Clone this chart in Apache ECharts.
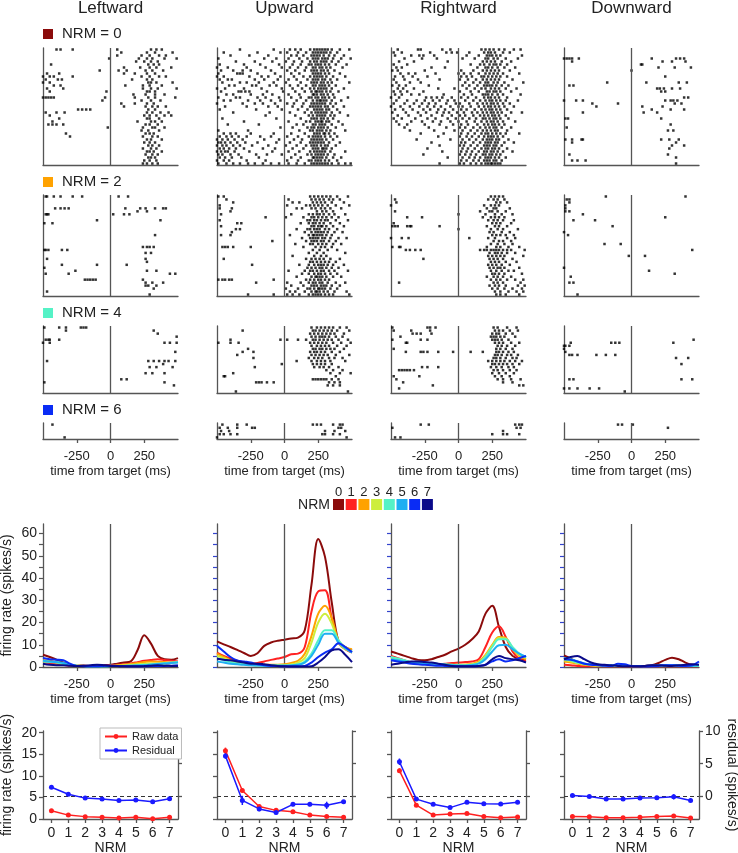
<!DOCTYPE html>
<html><head><meta charset="utf-8">
<script src="https://cdn.jsdelivr.net/npm/echarts@6/dist/echarts.min.js"></script>
<style>html,body{margin:0;padding:0;background:#fff}#c{width:738px;height:853px}</style>
</head><body><div id="c"></div><script>
// ---------------- DATA ----------------
const directions = ['Leftward', 'Upward', 'Rightward', 'Downward'];
const rasterLevels = [0, 2, 4, 6];
const trialCounts = [39, 34, 22, 5];
const nrmLevels = [0, 1, 2, 3, 4, 5, 6, 7];
const timeTicks = [-250, 0, 250];
const psthTicks = [0, 5, 10, 15, 20, 25, 30, 35, 40, 45, 50, 55, 60];
const psthLabels = [0, 10, 20, 30, 40, 50, 60];
const rateTicks = [0, 5, 10, 15, 20];
const residualTicks = [0, 5, 10];

// raster spike times (units of 10 ms), one string per trial, top trial first
const rasterLeft0 = [
"-40 -37 -28 5 30 34 38","8 27 33 46","5 23 29 36 41","-1 21 27 31 40 49","19 25 30 35","-44 28 32 36",
"10 22 29 34 45","-8 6 12 26 31 39","-47 -38 10 18 27 33","-50 -45 -42 -28 23 29 36 41","-48 -39 -36 16 27 31",
"-50 -45 28 30 34 46","-42 -37 11 24 29 38","-47 -35 24 30 35 49","-45 -3 27 29 33","17 26 33 40",
"-50 -48 -46 -44 -42 -4 18 28 33 48","-6 23 30 37","8 18 27 32","10 26 31 35 41","-24 -21 -18 -15 28 33",
"-48 -40 -34 27 31 37 43","-45 25 29 34 40 45","-38 27 29 36","-43 20 30 33 38","-46 -43 -40 -35 26 29 35",
"-2 24 31 33 40","23 28 36","-33 26 29 32","-30 24 31 35","27 30 38","25 29 33","28 31 36","24 30 34",
"27 29 32 38","26 31 35","28 30 33","25 29 34","24 27 31 35"];
const rasterUp0 = [
"-33 -8 4 8 12 19 22 24 26 28 30 32 35 41 48","-45 -20 -3 2 10 16 21 23 25 27 29 31 34 39",
"-40 -26 -12 5 9 14 20 22 24 26 29 33 37 44","-49 -15 -6 3 11 17 21 23 25 28 30 32 36 42 49",
"-36 -22 -9 1 7 13 19 22 24 27 29 31 35 40","-48 -30 -18 -4 6 12 18 20 23 25 27 30 33 38 46",
"-50 -42 -28 -14 -2 4 10 16 21 23 26 28 31 34 43","-47 -38 -31 -25 -10 2 8 15 20 22 24 27 29 32 37",
"-49 -35 -33 -31 -20 -7 5 11 21 23 25 27 30 33 41","-50 -45 -26 -17 -12 -3 7 14 19 22 24 26 28 31 36 45",
"-48 -42 -39 -22 -15 -5 3 9 17 21 23 25 28 30 34 39","-46 -33 -28 -19 -8 1 12 20 22 24 27 29 32 35 48",
"-41 -37 -24 -21 -11 -6 4 10 16 21 23 26 28 30 33 38","-50 -44 -30 -17 -2 6 13 19 22 25 27 29 31 35 44",
"-47 -34 -32 -29 -26 -13 -1 8 15 20 23 24 26 28 31 34 40","-43 -38 -25 -16 -9 3 11 21 22 24 27 29 32 36",
"-49 -36 -33 -20 -14 -4 5 12 18 20 23 25 28 30 33 37 47","-45 -40 -27 -18 -10 -3 9 16 21 24 26 27 29 31 35 42",
"-50 -31 -22 -16 -7 2 7 14 20 22 24 26 28 30 34 38","-44 -28 -12 -5 6 13 19 21 23 25 27 30 32 36 44",
"-48 -21 -2 10 17 22 24 26 28 31 33 39","-38 -11 4 15 20 23 25 27 29 31 35 41","-14 8 18 21 24 26 28 30 34 37 47",
"-46 -6 12 20 22 24 27 29 32 36","-30 3 16 19 23 25 27 28 31 33 40","-42 -19 9 14 21 23 26 28 30 35 43",
"-3 6 17 20 22 25 27 29 32 38","-49 -27 11 19 21 24 26 28 31 34 45","-45 -40 -36 -25 -8 5 15 22 24 26 29 30 33 37",
"-48 -43 -39 -34 -28 -18 -10 2 10 18 21 23 25 27 30 34 39","-50 -46 -42 -37 -31 -15 -4 7 13 20 22 24 26 28 31 36",
"-49 -47 -44 -40 -35 -29 -20 -6 4 12 19 21 23 25 27 29 33 41","-50 -46 -43 -38 -33 -24 -12 1 9 16 20 22 24 27 30 32 38",
"-48 -45 -41 -36 -30 -16 -7 6 14 21 23 25 28 29 31 35","-50 -47 -44 -42 -37 -26 -9 3 11 19 22 24 26 28 30 34 45",
"-49 -46 -40 -34 -21 -13 -2 8 17 20 23 25 27 29 32 37","-48 -44 -39 -32 -19 5 12 21 22 24 26 28 31 36 42",
"-50 -45 -41 -28 -14 2 10 18 20 23 25 27 30 33 39",
"-49 -43 -38 -33 -27 -22 -16 -10 -4 3 9 15 20 22 24 26 28 30 32 35 40 45 49"];
const rasterRight0 = [
"-45 -30 -28 -12 -6 17 20 23 26 30 34 41 46","-48 -42 -21 -9 -5 -1 8 19 22 24 27 33 38","-47 -35 -29 -26 -18 6 15 21 23 25 28 31 47",
"-40 -27 -16 3 12 20 22 26 29 35 44","-44 -33 -8 18 21 24 27 32 39","-48 -38 9 16 19 23 26 28 31 36",
"-46 -42 -20 -10 14 20 22 25 29 34 42","-49 -45 -25 2 11 18 21 24 27 30 38","-43 -37 -32 -17 0 4 9 15 20 23 26 29 33 45",
"-47 -41 -34 -23 2 6 10 17 19 22 25 28 31 36","-48 -40 -30 -14 1 7 13 18 21 24 27 30 40","-46 -36 -28 5 11 16 20 22 26 29 34 48",
"-49 -44 -39 -22 3 8 14 19 21 23 25 28 32 37","-45 -41 -33 -15 -3 6 12 17 20 24 27 30 35 43","-48 -43 -38 -26 1 9 15 21 23 26 28 31 39",
"-47 -42 -35 -29 -11 4 10 18 20 22 25 29 33 46","-50 -44 -24 -20 -16 -12 -5 2 7 13 19 22 24 27 30 36",
"-46 -38 -31 -25 -19 -14 -8 -3 5 11 16 20 23 25 28 31 35 44","-48 -40 -33 -27 -22 -17 -9 -2 1 8 14 18 21 24 26 29 33 38",
"-50 -43 -36 -29 -23 -18 -13 -6 0 3 9 15 19 22 24 27 30 34 41","-47 -41 -34 -26 -21 -15 -10 -4 2 6 12 17 20 23 25 28 31 36",
"-49 -39 -30 -24 -16 -11 -7 -1 4 10 14 18 21 24 26 29 32 39 47","-45 -37 -28 -20 -12 -5 1 5 11 16 19 22 25 27 30 35",
"-48 -42 -32 -23 -17 -8 -2 3 8 13 18 20 23 26 28 31 37","-46 -35 -27 -19 -13 -6 0 6 12 17 21 24 26 29 33 42",
"-44 -38 -25 -14 -4 2 7 14 19 22 25 27 30 34","-40 -22 -9 1 5 11 16 20 23 26 28 32 39","-36 -18 -3 3 9 14 18 21 24 27 29 36",
"-28 -11 2 7 12 17 20 22 25 28 31 35 45","-15 1 6 10 15 19 22 24 26 29 33","-31 -6 3 8 13 18 21 23 25 28 30 37",
"-20 2 5 11 16 20 22 24 27 29 34 41","-14 1 4 9 14 19 21 23 26 28 32","-23 3 7 12 17 20 22 25 27 30 36",
"-12 2 6 10 15 19 21 24 26 29 33 40","-26 1 5 9 13 18 20 23 25 28 31","-8 3 8 12 16 20 22 24 27 30 35",
"2 6 11 15 19 21 23 26 28 32","-14 1 4 9 13 17 20 22 24 25 27 29 31"];
const rasterDown0 = [
"","","","-50 -48 -46 -44 -39 15 33 36 39","-44 23 30 40","7 8","20 32 44","0","","25","","-18 11 35 41","-46 -43",
"19 21 24 30 36","22 25","","39 42","-50 -41 -36 25 29 31 34","-29 -10 32 37","-26 8 23","15 29 39","-36 9 19","",
"-49 -47 22","","29","-48","27 31","","","-49 -44 -37 -36 22 28 35","-44 33","30 39","28","","-46 27","33","-44 -40 -34","33"];

const rasterLeft2 = [
"-48 -47 -42 -37 -28 -21 6 13","","","","-41 -37 -34 -31 11 22 26 33 39 41","20 27","-48 -47 -46 2 10 14","","-10 37",
"-49 -43","","","","33","","","","24 27 29 32","-49 -48 -46 -36 -32","26 30","","-47 26","27","-36 -10 12","-49",
"-26 27 34","-48 -31 44 48","","-19 -17 -15 -13 -11 24","26 31 39","26 28 34","32","-47","29"];
const rasterUp2 = [
"-49 -45 19 22 25 28 31 34 39 47","-43 3 20 23 26 29 33 36 41","-38 6 11 21 24 27 30 35 44","-48 2 16 19 22 25 28 32 38 48",
"-48 -39 9 13 20 23 27 30 34 42","-40 24 28 31 36","-47 5 18 21 24 26 29 33 37 45","-14 1 14 20 22 25 28 31 35 40",
"-48 17 19 22 24 27 30 32 38 47","-35 -32 12 18 21 23 26 29 34 41","-47 20 22 25 27 28 31 36 44",
"-36 -33 9 17 19 22 24 26 30 33 39","-39 15 20 23 25 27 29 32 37 43","-47 -40 4 18 21 22 24 26 28 31 35",
"13 19 21 23 25 28 30 34 40 46","-9 16 20 22 24 27 29 33 38","8 19 21 25 28 31 36 42","-46 -44 -42 -38 -25 14 23 27 30 35",
"21 26 32 39","18 24 29 45","6 22 27 31","-45 16 20 23 26 29 34 41","19 21 24 27 30 33 38",
"-24 11 18 22 25 27 29 32 36 44","17 20 23 26 28 31 35 40","3 15 19 21 24 27 29 33 37 47","13 18 22 25 27 30 34 39",
"9 20 23 24 26 28 31 36 42","-49 -46 -44 -41 -39 -8 16 19 22 25 27 30 33","-21 2 12 18 21 23 26 28 32 38 45",
"5 14 20 22 24 27 29 31 35 41","1 10 17 19 22 25 26 28 30 34 39","4 8 15 20 23 24 26 29 32 37 46",
"-27 -8 2 6 11 18 21 23 25 27 30 33 36 48"];
const rasterRight2 = [
"24 27 30 33","-47 22 26 29 34","-46 28 31 36","-50 19 24 27 30","21 26 28 38","-47 16 23 25 29 35","0 20 27 32 40",
"-38 -27 18 24 27 30 34","22 26 29 33 41","-48 25 28 31 39","-49 -47 -45 -38 -36 -35 -14 21 27 30 36","0 24 29 33 44",
"23 26 32 38","25 28 31 35 41","-50 -42 -37 8 22 27 36 42","26 30 33 39","24 29 34 40","-49 -44 -43 21 28 31 37 45",
"-39 -36 -32 -28 16 19 21 24 26 28 30 33 36 39 49","23 27 29 32 36 42","22 25 28 31 34 48","-26 23 26 29 33 40",
"24 27 30 35 43","22 25 28 32 38","23 26 29 31 34 45","24 28 32 37 41","25 27 30 34 47","21 26 29 33 39",
"24 28 31 36 42 48","-44 26 29 33 46","23 27 30 35 44 49","25 29 34 40 47","27 31 37 43 48","28 31 35 45"];
const rasterDown2 = [
"-19 40","-48 -46","-46","-49","-49","-49 -46","-36","25","-43 -27","","-14","","-50","-47","","","-20 -8","","45","",
"-2 10","","","","-50","13","32","-45","","-46 -43","","","","-40"];

const rasterLeft4 = [
"-49 -38 -33 -22 -20 -18","-33 32","35","49","-48 -46 -45 -38","-50 -45 40 44 49","","","48","","",
"-47 28 32 36 40 43 48","39","29 34 46","","26 31 40","","8 12","-49 40","47","",""];
const rasterUp4 = [
"20 24 27 30 33 36 41 46","-31 21 23 26 29 32 35 39 48","19 22 25 28 31 34 37 44","20 23 26 28 30 33 38 43",
"-40 -3 2 10 16 21 23 26 29 32 35 40 47","-49 -40 -34 19 22 25 28 31 36 42 49","20 24 27 30 33 39 46",
"-27 21 23 26 28 31 34 37 44","-31 -23 19 22 24 27 30 35 41","-35 20 23 26 29 32 38 48","-23 18 22 25 28 33 37 43",
"9 20 24 27 30 34 45","-2 21 24 27 30 35","-22 22 26 29 33 40","31 36 43","-38 34 41 49","-45 -44 38",
"21 23 25 27 29 31 35 40","-21 -19 -17 -13 -8 33 37 41","32 36 41","","-36 47"];
const rasterRight4 = [
"-49 -23 -21 -17 26 29 36 43","-48 -35 -21 27 30 33 38 44","-34 -31 -28 -20 25 28 30 35 40","-43 24 26 28 31 34 42",
"-49 -28 -23 25 27 29 32 37","-39 -38 27 30 33 39 45","29 32 36 42","-48 28 31 35 40",
"-39 -28 -26 -23 -15 -4 9 18 28 30 33 37 41","27 29 32 36 39 44","26 28 31 35 40 43","22 25 28 31 34 38 42 47",
"25 27 30 33 36 40 45","-27 -23 -15 24 28 32 37 41","-44 -42 -40 -38 -36 -33 26 29 33 38 43","25 30 35 41",
"-48 -29 27 32 38","-46 29 33 39 46","-41 33 40","-19 45 48","-44",""];
const rasterDown4 = [
"","","","","46","-45 -15 -12 -9 31","-50 -49 -46","-50","-49","-46 -44 -40 -26 -19 -12","33 42","","37","","","","",
"-46 -43 37 45","","","-50 -46 -40 -31 -24","-5"];

const rasterLeft6 = ["-43", "", "", "", "-34"];
const rasterUp6 = ["-46 -35 -28 21 24 27 36 41 43", "-48 -42 -35 -24 -22 40 42", "-47 -41 30 37 45", "-48 -45 -40 -35 28 30 36 41", "-50 46"];
const rasterRight6 = ["-28 -22 42 45 47", "-49 43 46", "33", "25 33 36 45", "-47 -43"];
const rasterDown6 = ["-10 -7 1", "27", "", "", ""];

// PSTH: firing rate (spikes/s) at these times (ms), one row per NRM level 0..7
const psthTimes = [-500,-450,-400,-350,-300,-250,-200,-150,-100,-50,0,50,100,150,200,250,300,350,400,450,500];
const psthLeft = [
[5.5,4.5,3.3,2.0,1.0,0.6,0.7,0.5,0.6,0.8,1.0,1.5,2.0,2.5,7.5,14.3,10.5,5.0,3.5,3.3,4.0],
[2,1.8,1.5,1,0.6,0.5,0.5,0.5,0.5,0.5,0.8,1.0,1.2,1.6,2.2,2.8,3.2,3.5,3.2,2.8,2.5],
[3,2.8,2,1.2,0.8,0.5,0.5,0.5,0.5,0.5,0.6,0.8,1.0,1.3,1.8,2.2,2.5,2.4,2.2,2.0,2.2],
[2.5,2.5,2.2,1.5,1.0,0.6,0.5,0.4,0.4,0.5,0.5,0.6,0.8,1.0,1.2,1.5,1.6,1.5,1.5,1.8,2.2],
[2.5,2.3,2,1.5,1.0,0.6,0.4,0.3,0.3,0.3,0.4,0.5,0.5,0.6,0.8,1.0,1.2,1.5,1.8,2.0,2.2],
[2.8,2.5,2.2,1.8,1.0,0.5,0.4,0.3,0.3,0.3,0.4,0.4,0.5,0.6,0.7,0.8,1.0,1.3,1.6,1.8,2.0],
[4,3.5,3.3,3.0,1.5,0.5,0.3,0.3,0.3,0.5,0.6,0.5,0.4,0.3,0.3,0.3,0.4,0.4,0.5,0.6,0.8],
[1.5,1.0,0.8,0.8,0.6,0.5,0.6,0.8,1.0,0.8,0.5,0.4,0.3,0.3,0.3,0.4,0.6,0.8,0.6,0.5,0.4]];
const psthUp = [
[11.5,10.2,9.0,7.7,6.3,5.0,6.2,9.5,11.0,11.8,12.3,12.8,13.2,16.5,37,57.5,49.5,29,11.5,9,7.5],
[6.5,5,3.8,2.8,2,1.5,1.8,2.5,3.2,3.8,4.5,5.7,6,9,25,34,34.5,22,11,8,6.5],
[6,4.5,3,2,1.5,1.2,1,1,1,1,1.2,1.8,2.8,6,14,24,27.5,22,12,9,8],
[5,4,3,2,1.3,1,0.8,0.8,0.8,0.8,0.8,1.2,2,4,11,20,24,19.5,11,8,7],
[4,3,2.2,1.6,1.2,1,0.8,0.7,0.7,0.7,0.7,0.8,1.2,2.5,6,12,16.5,16.5,12,8.5,7],
[2.5,2,1.5,1.2,1,0.8,0.7,0.6,0.6,0.6,0.6,0.7,1,2,5,10,15,15,11,8.5,6.5],
[9.5,7,4.5,3,2.5,2,1.2,0.8,0.5,0.4,0.3,0.3,0.3,0.5,2,4.5,6.5,8,10.7,9,6.7],
[3.7,3.3,3,2.5,2,1.5,1.5,1.2,0.8,0.5,0.3,0.2,0.2,0.2,0.3,2,4.5,7.5,8,5.5,2.2]];
const psthRight = [
[7,6,5,4,3.2,3,3.5,4.5,5.5,7,8.3,10,12.5,16,24,27.5,18,9,5,3.5,3],
[5,4,3,2,1.5,1.3,1.2,1.2,1.5,1.8,2,2.2,2.5,3.5,9,15.5,18.3,13.5,7,3.7,2.7],
[4.5,3.5,2.5,1.8,1.5,1.3,1.1,1,1,1,1,1.1,1.5,2.5,5.5,10,13.5,13,8,5,3.5],
[4,3.3,2.5,2,1.6,1.4,1.2,1,0.9,0.8,0.8,0.9,1.2,2,5,9.5,13,12.8,8.5,5.5,4],
[4.5,3.8,3,2.2,1.8,1.6,1.5,1.4,1.2,1,0.8,0.8,1,1.8,4.5,9,12.5,12.5,9,6,4.5],
[3.5,3,2.5,2.2,2,1.8,1.6,1.4,1,0.8,0.6,0.6,0.8,1.5,3.5,7,9.8,10,8,6,4.5],
[3,2.5,2,1.5,1.2,1,0.8,0.6,0.5,0.4,0.3,0.3,0.3,0.5,1,2.5,3.5,2.5,3,4,5],
[1,1.5,2,2.5,2.5,2.2,2,1.5,1,0.5,0.3,0.3,0.3,0.5,1,3.5,5,4,3.5,3,2]];
const psthDown = [
[5.2,3.8,2.2,1.2,0.8,0.6,0.5,0.5,0.5,0.5,0.5,0.4,0.5,0.8,1.8,3.2,4.2,3.5,2.0,1.0,0.8],
[1,0.8,0.5,0.3,0.3,0.3,0.3,0.3,0.3,0.3,0.3,0.3,0.3,0.3,0.3,0.3,0.3,0.3,0.3,0.3,0.3],
[2.5,2,1.5,1,0.8,0.6,0.5,0.5,0.5,0.5,0.4,0.4,0.4,0.4,0.4,0.4,0.4,0.4,0.4,0.4,0.4],
[3,2.5,1.8,1.2,0.8,0.6,0.5,0.5,0.4,0.4,0.4,0.4,0.4,0.4,0.5,0.5,0.5,0.5,0.5,0.5,0.5],
[3.5,3,2,1.5,1.2,1,0.8,0.7,0.6,0.5,0.5,0.5,0.5,0.5,0.6,0.7,0.7,0.6,0.5,0.5,0.6],
[4,3.5,2.5,1.6,1.2,1.0,0.8,0.8,0.8,0.6,0.5,0.5,0.5,0.6,0.7,0.8,0.8,0.7,0.6,0.6,0.8],
[3.5,3.2,2.5,1.5,1.0,0.8,0.6,0.5,1.5,1.2,0.5,0.3,0.2,0.3,0.5,0.8,0.8,0.6,0.5,0.8,2.5],
[3.5,4.5,5,3.5,2,1.2,1.0,0.8,0.5,0.3,0.3,0.3,0.5,0.8,0.8,0.6,0.5,0.8,1.0,1.2,1.0]];

// tuning: raw firing rate (spikes/s, left axis) and residual (spikes/s, right axis) per NRM
const rawLeft  = [1.9, 0.9, 0.55, 0.4, 0.25, 0.4, 0.05, 0.4];
const resLeft  = [1.4, 0.35, -0.25, -0.4, -0.6, -0.55, -0.8, -0.35];
const rawUp    = [15.85, 6.6, 2.9, 2.0, 1.7, 0.9, 0.6, 0.4];
const resUp    = [6.2, -0.6, -1.9, -2.45, -1.2, -1.2, -1.35, -0.8];
const rawRight = [11.2, 3.2, 0.9, 1.15, 1.3, 0.6, 0.3, 0.45];
const resRight = [5.3, -0.4, -1.2, -1.7, -0.9, -1.1, -1.15, -0.9];
const rawDown  = [0.6, 0.55, 0.3, 0.3, 0.4, 0.6, 0.7, 0.25];
const resDown  = [0.15, 0, -0.4, -0.4, -0.25, -0.2, -0.05, -0.6];
const rawErrLeft  = [0.2, 0.15, 0.1, 0.1, 0.1, 0.1, 0.1, 0.1];
const resErrLeft  = [0.2, 0.25, 0.15, 0.15, 0.15, 0.15, 0.2, 0.15];
const rawErrUp    = [0.7, 0.45, 0.3, 0.3, 0.25, 0.2, 0.2, 0.2];
const resErrUp    = [0.45, 0.7, 0.35, 0.3, 0.3, 0.3, 0.55, 0.25];
const rawErrRight = [0.55, 0.35, 0.2, 0.2, 0.2, 0.15, 0.15, 0.15];
const resErrRight = [0.5, 0.25, 0.2, 0.2, 0.2, 0.2, 0.2, 0.2];
const rawErrDown  = [0.15, 0.15, 0.1, 0.1, 0.1, 0.15, 0.2, 0.1];
const resErrDown  = [0.2, 0.2, 0.2, 0.2, 0.2, 0.2, 0.4, 0.2];

// ---------------- STYLE / LAYOUT ----------------
const FONT = '"Liberation Sans", Arial, sans-serif';
const TXT = '#222';
const AX = '#555';
const nrmColors = ['#8b0b0b','#ff2222','#ffa200','#cdee3c','#55f2c6','#1eaff2','#0a2cf5','#0a0a8a'];
const colLeft = [43, 217, 391, 564];
const colW = 135;
const rowTop = [48, 195, 326, 423, 524, 731];
const rowH = [117, 101, 67, 16, 143, 88];

const rasters = [
  [rasterLeft0, rasterUp0, rasterRight0, rasterDown0],
  [rasterLeft2, rasterUp2, rasterRight2, rasterDown2],
  [rasterLeft4, rasterUp4, rasterRight4, rasterDown4],
  [rasterLeft6, rasterUp6, rasterRight6, rasterDown6]];
const psths = [psthLeft, psthUp, psthRight, psthDown];
const raws = [rawLeft, rawUp, rawRight, rawDown];
const ress = [resLeft, resUp, resRight, resDown];
const rawErrs = [rawErrLeft, rawErrUp, rawErrRight, rawErrDown];
const resErrs = [resErrLeft, resErrUp, resErrRight, resErrDown];

function rasterPoints(rows) {
  const pts = [];
  rows.forEach((s, i) => {
    if (!s.trim()) return;
    s.trim().split(/\s+/).forEach(v => pts.push([Number(v) * 10, i + 0.5]));
  });
  return pts;
}
function axLine(show) { return { show, onZero: false, lineStyle: { color: AX, width: 1.3 } }; }
function zeroLine(color, width, type, axis) {
  const d = {}; d[axis || 'xAxis'] = 0;
  return { silent: true, symbol: ['none', 'none'], label: { show: false }, animation: false,
    lineStyle: { color: color, width: width, type: type }, emphasis: { disabled: true }, data: [d] };
}
const nameStyle = (fs) => ({ fontSize: fs, color: TXT, fontFamily: FONT });

const grids = [], xAxes = [], yAxes = [], series = [];
function addGrid(left, top, width, height) {
  grids.push({ left, top, width, height, containLabel: false, outerBoundsMode: 'none' });
  return grids.length - 1;
}

// rasters
for (let r = 0; r < 4; r++) {
  for (let c = 0; c < 4; c++) {
    const gi = addGrid(colLeft[c], rowTop[r], colW, rowH[r]);
    const last = r === 3;
    const xi = xAxes.push({ gridIndex: gi, type: 'value', min: -500, max: 500,
      axisLine: axLine(true),
      axisTick: { show: last, customValues: timeTicks, length: 4, lineStyle: { color: AX, width: 1.3 } },
      axisLabel: { show: last, customValues: timeTicks, fontSize: 13, color: TXT, margin: 11, fontFamily: FONT, hideOverlap: false },
      splitLine: { show: false },
      name: last ? 'time from target (ms)' : '', nameLocation: 'middle', nameGap: 26, nameTextStyle: nameStyle(13) }) - 1;
    const yi = yAxes.push({ gridIndex: gi, type: 'value', inverse: true, min: 0, max: trialCounts[r],
      axisLine: axLine(true), axisTick: { show: false }, axisLabel: { show: false }, splitLine: { show: false } }) - 1;
    series.push({ type: 'scatter', xAxisIndex: xi, yAxisIndex: yi, data: rasterPoints(rasters[r][c]),
      symbol: 'rect', symbolSize: 2.5, itemStyle: { color: '#000' }, silent: true,
      markLine: zeroLine(AX, 1.3, 'solid') });
  }
}

// PSTH
for (let c = 0; c < 4; c++) {
  const gi = addGrid(colLeft[c], rowTop[4], colW, rowH[4]);
  const xi = xAxes.push({ gridIndex: gi, type: 'value', min: -500, max: 500,
    axisLine: axLine(true),
    axisTick: { show: true, customValues: timeTicks, length: 4, lineStyle: { color: AX, width: 1.3 } },
    axisLabel: { customValues: timeTicks, fontSize: 13, color: TXT, margin: 11, fontFamily: FONT, hideOverlap: false },
    splitLine: { show: false },
    name: 'time from target (ms)', nameLocation: 'middle', nameGap: 26, nameTextStyle: nameStyle(13) }) - 1;
  const yi = yAxes.push({ gridIndex: gi, type: 'value', min: 0, max: 64.3,
    axisLine: axLine(true),
    axisTick: { show: true, customValues: psthTicks, length: 4, lineStyle: { color: c === 0 ? AX : '#3344cc', width: 1.2 } },
    axisLabel: { show: c === 0, customValues: psthLabels, fontSize: 14, color: TXT, margin: 6, fontFamily: FONT, hideOverlap: false },
    splitLine: { show: false },
    name: c === 0 ? 'firing rate (spikes/s)' : '', nameLocation: 'middle', nameGap: 29, nameTextStyle: nameStyle(14) }) - 1;
  psths[c].forEach((vals, k) => {
    series.push({ type: 'line', xAxisIndex: xi, yAxisIndex: yi, smooth: 0.35, showSymbol: false, silent: true,
      data: psthTimes.map((t, i) => [t, vals[i]]),
      lineStyle: { color: nrmColors[k], width: 2 }, itemStyle: { color: nrmColors[k] },
      markLine: k === 0 ? zeroLine(AX, 1.3, 'solid') : undefined, z: 3 + k });
  });
}

// tuning
function errSeries(xi, yi, vals, errs, color) {
  return { type: 'custom', xAxisIndex: xi, yAxisIndex: yi, silent: true, z: 4,
    data: vals.map((v, i) => [nrmLevels[i], v - errs[i], v + errs[i]]),
    encode: { x: 0, y: [1, 2] },
    renderItem: (params, api) => {
      const p1 = api.coord([api.value(0), api.value(1)]);
      const p2 = api.coord([api.value(0), api.value(2)]);
      return { type: 'line', shape: { x1: p1[0], y1: p1[1], x2: p2[0], y2: p2[1] }, style: { stroke: color, lineWidth: 1.5 } };
    } };
}
for (let c = 0; c < 4; c++) {
  const gi = addGrid(colLeft[c], rowTop[5], colW, rowH[5]);
  const xi = xAxes.push({ gridIndex: gi, type: 'value', min: -0.5, max: 7.5,
    axisLine: axLine(true),
    axisTick: { show: true, customValues: nrmLevels, length: 4, lineStyle: { color: AX, width: 1.3 } },
    axisLabel: { customValues: nrmLevels, fontSize: 14, color: TXT, margin: 7, fontFamily: FONT, hideOverlap: false },
    splitLine: { show: false },
    name: 'NRM', nameLocation: 'middle', nameGap: 22, nameTextStyle: nameStyle(14) }) - 1;
  const yl = yAxes.push({ gridIndex: gi, type: 'value', position: 'left', min: 0, max: 20.4,
    axisLine: axLine(true),
    axisTick: { show: true, customValues: rateTicks, length: 4, lineStyle: { color: AX, width: 1.3 } },
    axisLabel: { show: c === 0, customValues: rateTicks, fontSize: 14, color: TXT, margin: 6, fontFamily: FONT, hideOverlap: false },
    splitLine: { show: false },
    name: c === 0 ? 'firing rate (spikes/s)' : '', nameLocation: 'middle', nameGap: 29, nameTextStyle: nameStyle(14) }) - 1;
  const yr = yAxes.push({ gridIndex: gi, type: 'value', position: 'right', min: -3.44, max: 10,
    axisLine: axLine(true),
    axisTick: { show: true, customValues: residualTicks, length: 4, lineStyle: { color: AX, width: 1.3 } },
    axisLabel: { show: c === 3, customValues: residualTicks, fontSize: 14, color: TXT, margin: 6, fontFamily: FONT, hideOverlap: false },
    splitLine: { show: false },
    name: c === 3 ? 'residual (spikes/s)' : '', nameLocation: 'middle', nameRotate: -90, nameGap: 24, nameTextStyle: nameStyle(14) }) - 1;
  series.push(errSeries(xi, yl, raws[c], rawErrs[c], '#ff2020'));
  series.push(errSeries(xi, yr, ress[c], resErrs[c], '#1a1aff'));
  series.push({ type: 'line', name: 'Raw data', xAxisIndex: xi, yAxisIndex: yl, silent: true,
    data: raws[c].map((v, i) => [nrmLevels[i], v]), symbol: 'circle', symbolSize: 5, showSymbol: true,
    lineStyle: { color: '#ff2020', width: 1.5 }, itemStyle: { color: '#ff2020' }, z: 5 });
  series.push({ type: 'line', name: 'Residual', xAxisIndex: xi, yAxisIndex: yr, silent: true,
    data: ress[c].map((v, i) => [nrmLevels[i], v]), symbol: 'circle', symbolSize: 5, showSymbol: true,
    lineStyle: { color: '#1a1aff', width: 1.5 }, itemStyle: { color: '#1a1aff' }, z: 5,
    markLine: zeroLine('#333', 1.2, [4, 3], 'yAxis') });
}

// graphics: titles, NRM labels, colour key
const graphics = [];
directions.forEach((d, c) => graphics.push({ type: 'text', x: colLeft[c] + colW / 2, y: 8,
  style: { text: d, font: '17px ' + FONT, fill: TXT, align: 'center', verticalAlign: 'middle' } }));
const rowLabelY = [34, 182, 313, 410];
rasterLevels.forEach((lv, r) => {
  graphics.push({ type: 'rect', shape: { x: 43, y: rowLabelY[r] - 5, width: 10, height: 10 }, style: { fill: nrmColors[lv] } });
  graphics.push({ type: 'text', x: 62, y: rowLabelY[r], style: { text: 'NRM = ' + lv, font: '15px ' + FONT, fill: TXT, align: 'left', verticalAlign: 'middle' } });
});
graphics.push({ type: 'text', x: 330, y: 505, style: { text: 'NRM', font: '14px ' + FONT, fill: TXT, align: 'right', verticalAlign: 'middle' } });
nrmLevels.forEach((lv, k) => {
  const x = 333 + 12.7 * k;
  graphics.push({ type: 'rect', shape: { x: x, y: 499, width: 11, height: 11 }, style: { fill: nrmColors[k] } });
  graphics.push({ type: 'text', x: x + 5.5, y: 492, style: { text: String(lv), font: '13px ' + FONT, fill: TXT, align: 'center', verticalAlign: 'middle' } });
});

const chart = echarts.init(document.getElementById('c'), null, { renderer: 'canvas' });
chart.setOption({
  animation: false,
  backgroundColor: '#fff',
  textStyle: { fontFamily: FONT },
  grid: grids, xAxis: xAxes, yAxis: yAxes, series: series,
  legend: { data: ['Raw data', 'Residual'], left: 100, top: 728, orient: 'vertical', selectedMode: false,
    itemWidth: 22, itemHeight: 6, itemGap: 3, padding: [3, 3, 3, 4],
    textStyle: { fontSize: 11, color: TXT, fontFamily: FONT },
    borderColor: '#bbb', borderWidth: 1, backgroundColor: '#fff' },
  graphic: graphics
});
</script></body></html>
